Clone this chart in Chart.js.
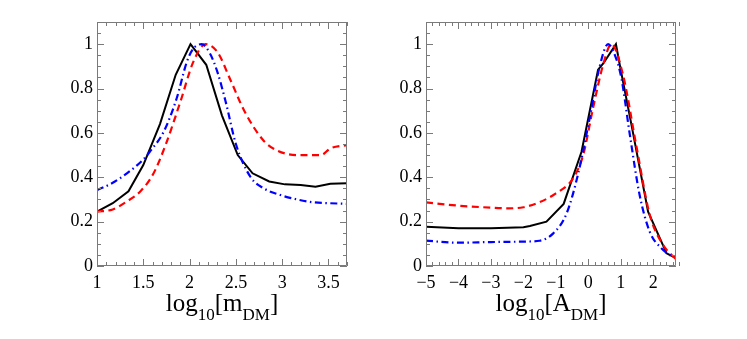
<!doctype html>
<html lang="en">
<head>
    <meta charset="utf-8">
    <title>log10 m_DM / A_DM</title>
    <style>
        * {
            margin: 0;
            padding: 0;
        }

        body {
            background: #fff;
            width: 747px;
            height: 339px;
            overflow: hidden;
        }

        canvas {
            position: absolute;
            left: 0;
            top: 0;
        }
    </style>
</head>
<body>
<canvas id="chartMass" width="747" height="339"></canvas>
<canvas id="chartAmp" width="747" height="339"></canvas>
<script src="https://cdn.jsdelivr.net/npm/chart.js"></script>
<script>
    // left panel: log10[m_DM]
    const massBlackX = [1, 1.17, 1.34, 1.5, 1.68, 1.85, 2.01, 2.18, 2.35, 2.52, 2.68, 2.86, 3.03, 3.2, 3.36, 3.52, 3.7];
    const massBlackY = [0.245, 0.283, 0.337, 0.455, 0.64, 0.862, 1.0, 0.907, 0.678, 0.5, 0.418, 0.381, 0.368, 0.365, 0.357, 0.371, 0.373];

    const massRedX = [1, 1.17, 1.32, 1.47, 1.61, 1.74, 1.9, 2.04, 2.17, 2.3, 2.44, 2.59, 2.8, 2.95, 3.16, 3.42, 3.52, 3.7];
    const massRedY = [0.245, 0.255, 0.29, 0.337, 0.417, 0.545, 0.74, 0.92, 1.0, 0.965, 0.84, 0.7, 0.565, 0.52, 0.5, 0.5, 0.53, 0.545];

    const massBlueX = [1, 1.17, 1.33, 1.5, 1.57, 1.72, 1.86, 1.97, 2.04, 2.13, 2.22, 2.3, 2.39, 2.5, 2.66, 2.8, 2.98, 3.16, 3.34, 3.52, 3.7];
    const massBlueY = [0.342, 0.375, 0.42, 0.48, 0.515, 0.605, 0.755, 0.92, 0.98, 1.0, 0.958, 0.875, 0.74, 0.55, 0.4, 0.35, 0.32, 0.3, 0.287, 0.283, 0.28];

    const massTicksX = [1, 1.5, 2, 2.5, 3, 3.5];

    // right panel: log10[A_DM]
    const ampBlackX = [-5, -4, -3, -2, -1.8, -1.29, -0.76, -0.21, 0.3, 0.46, 0.85, 0.97, 1.33, 1.84, 2.41, 2.7];
    const ampBlackY = [0.177, 0.17, 0.17, 0.175, 0.18, 0.2, 0.28, 0.515, 0.885, 0.913, 1.0, 0.905, 0.635, 0.245, 0.057, 0.035];

    const ampRedX = [-5, -4, -3, -2.5, -2, -1.5, -1, -0.47, -0.16, 0.15, 0.46, 0.71, 1.07, 1.48, 1.89, 2.3, 2.7];
    const ampRedY = [0.287, 0.272, 0.263, 0.26, 0.265, 0.288, 0.327, 0.395, 0.5, 0.715, 0.91, 1.0, 0.86, 0.54, 0.232, 0.096, 0.03];

    const ampBlueX = [-5, -4, -3, -2, -1.5, -1.08, -0.67, -0.31, 0.05, 0.35, 0.61, 0.82, 1.02, 1.28, 1.58, 1.89, 2.25, 2.6];
    const ampBlueY = [0.114, 0.105, 0.108, 0.11, 0.114, 0.147, 0.237, 0.418, 0.673, 0.9, 1.0, 0.95, 0.845, 0.59, 0.32, 0.155, 0.08, 0.04];

    const ampTicksX = [-5, -4, -3, -2, -1, 0, 1, 2];

    // shared y axis
    const ticksY = [0, 0.2, 0.4, 0.6, 0.8, 1];

    const serif = "'Liberation Serif', 'DejaVu Serif', serif";
    Chart.defaults.font.family = serif;
    Chart.defaults.font.size = 18;
    Chart.defaults.color = '#000';

    const toPoints = (xs, ys) => xs.map((x, i) => ({x: x, y: ys[i]}));

    const makeSets = (bx, by, rx, ry, ux, uy) => [{
        label: 'black',
        data: toPoints(bx, by),
        borderColor: '#000',
        borderWidth: 2,
        tension: 0,
        order: 3
    }, {
        label: 'red',
        data: toPoints(rx, ry),
        borderColor: '#ff0000',
        borderWidth: 2.2,
        borderDash: [7, 4.5],
        cubicInterpolationMode: 'monotone',
        order: 2
    }, {
        label: 'blue',
        data: toPoints(ux, uy),
        borderColor: '#0000ff',
        borderWidth: 2.2,
        borderDash: [7, 3.5, 1.5, 3.5],
        cubicInterpolationMode: 'monotone',
        order: 1
    }];

    // frame box with inside ticks on all four sides
    const frameTicks = {
        id: 'frameTicks',
        afterDatasetsDraw(chart, args, opts) {
            const {ctx, chartArea: {top, bottom, left, right}, scales: {x, y}} = chart;
            ctx.save();
            ctx.strokeStyle = '#7a7a7a';
            ctx.lineWidth = 1;
            ctx.beginPath();
            ctx.rect(Math.round(left) + 0.5, Math.round(top) + 0.5, Math.round(right - left) - 1, Math.round(bottom - top) - 1);
            ctx.stroke();

            const walk = (min, max, minor, major, fn) => {
                const n = Math.round((max - min) / minor);
                for (let i = 0; i <= n; i++) {
                    const v = min + i * minor;
                    const isMajor = Math.abs(v / major - Math.round(v / major)) < 1e-6;
                    fn(v, isMajor ? 7 : 4);
                }
            };

            ctx.beginPath();
            walk(opts.xFrom, x.max, opts.xMinor, opts.xMajor, (v, len) => {
                const px = Math.round(x.getPixelForValue(v)) + 0.5;
                ctx.moveTo(px, bottom);
                ctx.lineTo(px, bottom - len);
                ctx.moveTo(px, top);
                ctx.lineTo(px, top + len);
            });
            walk(0, y.max, 0.05, 0.2, (v, len) => {
                const py = Math.round(y.getPixelForValue(v)) + 0.5;
                ctx.moveTo(left, py);
                ctx.lineTo(left + len, py);
                ctx.moveTo(right, py);
                ctx.lineTo(right - len, py);
            });
            ctx.stroke();
            ctx.restore();
        }
    };

    // axis title with subscripts
    const axisTitle = {
        id: 'axisTitle',
        afterDraw(chart, args, opts) {
            const {ctx, chartArea: {left, right}} = chart;
            const big = '25px ' + serif;
            const small = '17px ' + serif;
            let total = 0;
            opts.parts.forEach(p => {
                ctx.font = p[1] ? small : big;
                total += ctx.measureText(p[0]).width;
            });
            let cx = (left + right) / 2 - total / 2;
            ctx.save();
            ctx.fillStyle = '#000';
            ctx.textBaseline = 'alphabetic';
            ctx.textAlign = 'left';
            opts.parts.forEach(p => {
                ctx.font = p[1] ? small : big;
                ctx.fillText(p[0], cx, opts.baseline + (p[1] ? 9 : 0));
                cx += ctx.measureText(p[0]).width;
            });
            ctx.restore();
        }
    };

    const tickFont = {family: serif, size: 18};

    const makeConfig = (datasets, xMin, xMax, xTicks, pad, frame, title) => ({
        type: 'line',
        data: {datasets},
        options: {
            responsive: false,
            animation: false,
            events: [],
            layout: {padding: pad},
            plugins: {
                legend: {display: false},
                tooltip: {enabled: false},
                frameTicks: frame,
                axisTitle: title
            },
            elements: {point: {radius: 0}},
            scales: {
                x: {
                    type: 'linear',
                    min: xMin,
                    max: xMax,
                    grid: {display: false, drawTicks: false},
                    border: {display: false},
                    afterBuildTicks: s => {
                        s.ticks = xTicks.map(v => ({value: v}));
                    },
                    afterFit: s => {
                        s.height = 30;
                    },
                    ticks: {
                        autoSkip: false,
                        maxRotation: 0,
                        padding: 6,
                        color: '#000',
                        font: tickFont,
                        callback: v => String(v).replace('-', '\u2212')
                    }
                },
                y: {
                    type: 'linear',
                    min: 0,
                    max: 1.1,
                    grid: {display: false, drawTicks: false},
                    border: {display: false},
                    afterBuildTicks: s => {
                        s.ticks = ticksY.map(v => ({value: v}));
                    },
                    afterFit: s => {
                        s.width = 40;
                    },
                    ticks: {
                        padding: 4,
                        color: '#000',
                        font: tickFont,
                        callback: v => String(v)
                    }
                }
            }
        },
        plugins: [frameTicks, axisTitle]
    });

    // render init block
    const massChart = new Chart(
        document.getElementById('chartMass'),
        makeConfig(
            makeSets(massBlackX, massBlackY, massRedX, massRedY, massBlueX, massBlueY),
            1, 3.7, massTicksX,
            {left: 57, right: 400, top: 22, bottom: 43},
            {xFrom: 1, xMinor: 0.1, xMajor: 0.5},
            {baseline: 311, parts: [['log', false], ['10', true], ['[', false], ['m', false], ['DM', true], [']', false]]}
        )
    );

    const ampChart = new Chart(
        document.getElementById('chartAmp'),
        makeConfig(
            makeSets(ampBlackX, ampBlackY, ampRedX, ampRedY, ampBlueX, ampBlueY),
            -5, 2.7, ampTicksX,
            {left: 386, right: 71, top: 22, bottom: 43},
            {xFrom: -5, xMinor: 0.2, xMajor: 1},
            {baseline: 311, parts: [['log', false], ['10', true], ['[', false], ['A', false], ['DM', true], [']', false]]}
        )
    );
</script>
</body>
</html>
